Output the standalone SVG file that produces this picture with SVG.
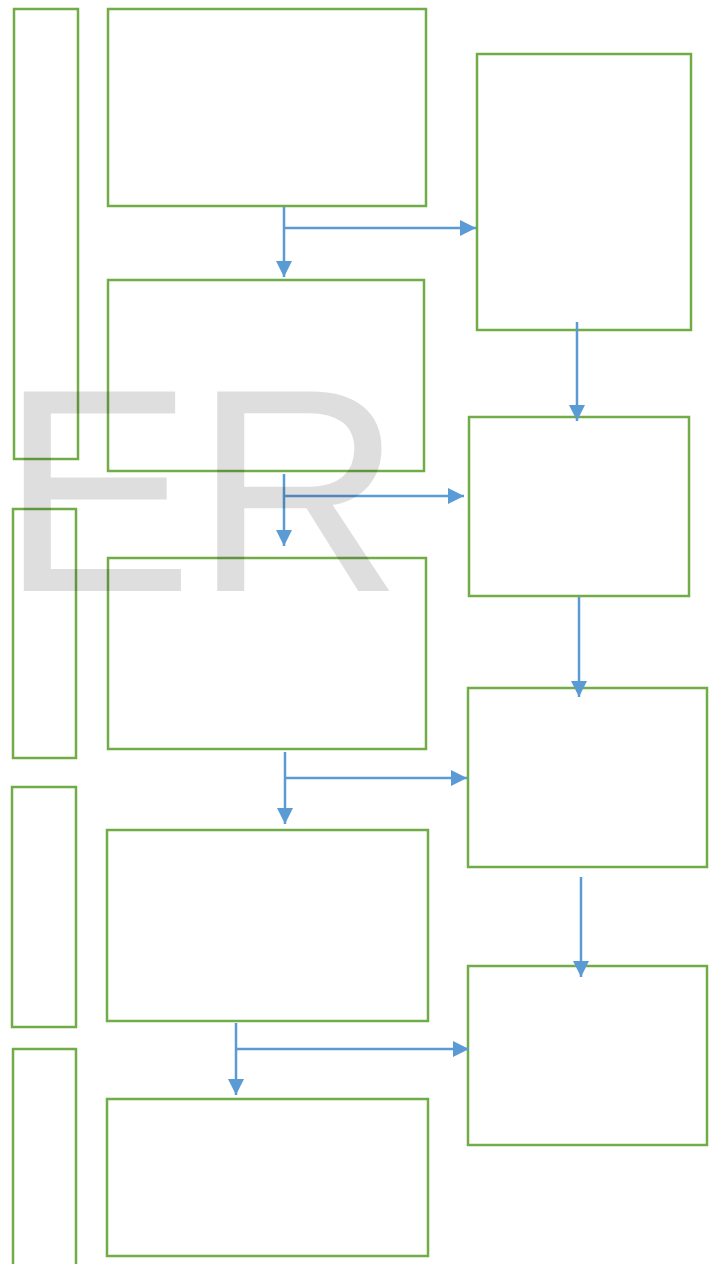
<svg xmlns="http://www.w3.org/2000/svg" width="712" height="1264" viewBox="0 0 712 1264">
<defs>
<style>
.n{fill:#ffffff;stroke:#70ad47;stroke-width:2.5}
.c{fill:none;stroke:#5b9bd5;stroke-width:2.5}
.wm{font-family:"Liberation Sans",Arial,sans-serif;font-size:290px;fill:#000;fill-opacity:0.13}
</style>
<marker id="ah" viewBox="0 0 10 10" refX="10" refY="5" markerWidth="6.4" markerHeight="6.4" markerUnits="strokeWidth" orient="auto">
<path d="M0,0 L10,5 L0,10 Z" fill="#5b9bd5"/>
</marker>
</defs>
<rect width="712" height="1264" fill="#ffffff"/>
<g id="nodes">
<g id="left1"><rect class="n" x="14" y="9" width="64" height="450"/></g>
<g id="boxA"><rect class="n" x="108" y="9" width="318" height="197"/></g>
<g id="right1"><rect class="n" x="477" y="54" width="214" height="276"/></g>
<g id="boxB"><rect class="n" x="108" y="280" width="316" height="191"/></g>
<g id="left2"><rect class="n" x="13" y="509" width="63" height="249"/></g>
<g id="right2"><rect class="n" x="469" y="417" width="220" height="179"/></g>
<g id="boxC"><rect class="n" x="108" y="558" width="318" height="191"/></g>
<g id="right3"><rect class="n" x="468" y="688" width="239" height="179"/></g>
<g id="left3"><rect class="n" x="12" y="787" width="64" height="240"/></g>
<g id="boxD"><rect class="n" x="107" y="830" width="321" height="191"/></g>
<g id="right4"><rect class="n" x="468" y="966" width="239" height="179"/></g>
<g id="left4"><rect class="n" x="13" y="1049" width="63" height="230"/></g>
<g id="boxE"><rect class="n" x="107" y="1099" width="321" height="157"/></g>
</g>
<g id="connectors">
<path class="c" d="M284,207 V277" marker-end="url(#ah)"/>
<path class="c" d="M284,228 H476" marker-end="url(#ah)"/>
<path class="c" d="M577,322 V421" marker-end="url(#ah)"/>
<path class="c" d="M284,474 V546" marker-end="url(#ah)"/>
<path class="c" d="M284,496 H464" marker-end="url(#ah)"/>
<path class="c" d="M579,597 V697" marker-end="url(#ah)"/>
<path class="c" d="M285,752 V824" marker-end="url(#ah)"/>
<path class="c" d="M285,778 H467" marker-end="url(#ah)"/>
<path class="c" d="M581,877 V977" marker-end="url(#ah)"/>
<path class="c" d="M236,1023 V1095" marker-end="url(#ah)"/>
<path class="c" d="M236,1049 H469" marker-end="url(#ah)"/>
</g>
<text class="wm" x="0" y="591">ER</text>
</svg>
